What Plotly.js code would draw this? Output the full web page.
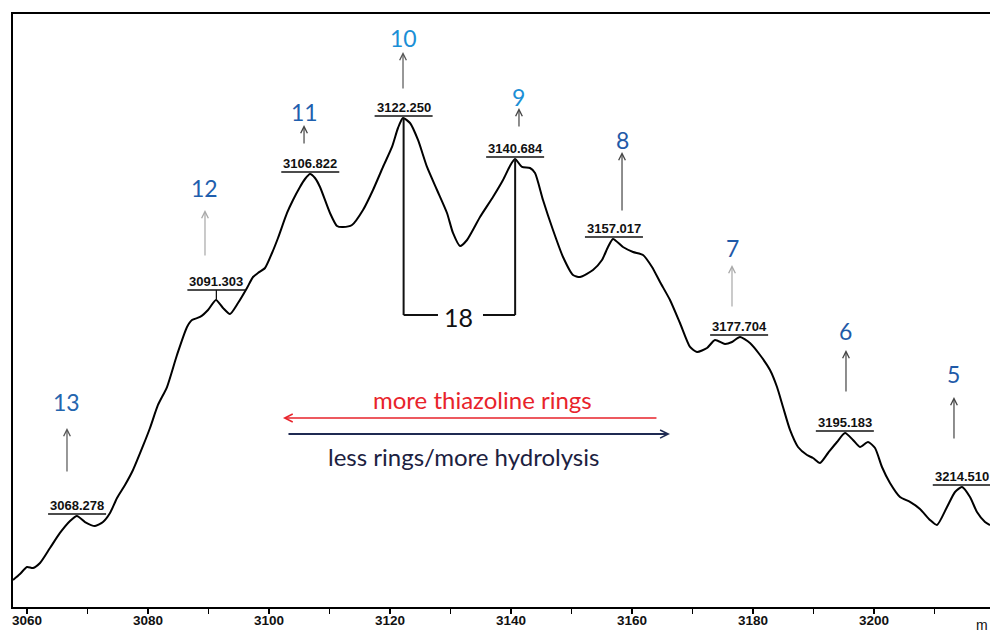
<!DOCTYPE html>
<html>
<head>
<meta charset="utf-8">
<script src="https://cdn.plot.ly/plotly-3.0.1.min.js"></script>
<style>html,body{margin:0;padding:0;background:#fff;}#chart{width:990px;height:633px;}</style>
</head>
<body>
<div id="chart"></div>
<script>
// ---- data ----
const mz = [3057.69,3058.84,3060.00,3060.99,3062.15,3063.80,3065.45,3067.11,3068.26,3069.59,3071.24,3072.56,3073.72,3074.88,3076.20,3077.52,3079.17,3080.33,3081.65,3083.14,3084.79,3086.45,3087.27,3088.60,3089.92,3091.24,3092.40,3093.55,3094.88,3096.36,3097.36,3098.18,3099.34,3100.50,3101.49,3102.98,3103.97,3105.12,3105.95,3106.78,3107.60,3108.43,3110.08,3111.24,3112.23,3113.72,3115.54,3117.19,3118.84,3120.33,3121.32,3122.15,3123.31,3124.63,3126.12,3127.77,3129.42,3130.41,3131.57,3132.73,3134.88,3137.02,3138.68,3139.83,3140.66,3141.82,3143.14,3143.97,3145.29,3146.94,3148.60,3150.25,3151.40,3153.55,3155.04,3156.03,3156.86,3158.51,3160.17,3161.82,3163.31,3164.63,3166.28,3167.93,3169.59,3170.74,3172.40,3173.72,3175.37,3176.53,3177.85,3179.50,3181.16,3182.81,3183.97,3184.96,3186.12,3187.44,3188.93,3189.92,3191.07,3192.40,3193.88,3195.21,3196.53,3197.69,3199.01,3200.17,3201.32,3202.64,3204.30,3205.95,3207.60,3209.26,3210.41,3212.07,3213.39,3214.55,3215.87,3217.02,3218.35,3219.17];
const intensity = [4.71,5.71,6.89,6.72,7.56,10.08,12.61,14.62,15.46,14.45,13.78,14.45,15.97,18.49,20.67,23.19,27.23,30.25,34.12,37.14,42.52,47.23,48.40,48.91,50.08,51.77,50.42,49.41,51.26,53.78,55.63,56.30,57.14,59.66,62.18,66.39,68.57,70.76,72.10,72.94,72.27,70.76,66.39,64.20,64.03,64.37,66.89,70.25,74.12,77.48,80.67,82.35,81.51,78.66,74.12,70.25,66.39,63.03,60.84,61.85,65.71,69.08,71.93,74.29,75.46,74.12,73.95,73.11,68.57,63.53,58.99,55.97,55.63,56.81,58.49,60.67,62.02,60.67,59.83,59.33,57.31,54.79,51.77,47.90,43.87,43.03,43.70,45.04,44.37,44.71,45.55,44.54,42.52,40.00,37.14,33.78,29.92,27.06,25.71,25.21,24.37,26.05,27.90,29.41,28.24,27.06,27.90,26.89,23.70,21.01,18.66,17.82,16.64,14.79,13.95,16.97,19.50,20.34,18.66,16.13,14.45,13.95];

const peakMz = [3068.278, 3091.303, 3106.822, 3122.250, 3140.684, 3157.017, 3177.704, 3195.183, 3214.510];
const peakIntensity = [15.46, 51.77, 72.94, 82.35, 75.46, 62.02, 45.55, 29.41, 20.34];
const ringCounts = ['13', '12', '11', '10', '9', '8', '7', '6', '5'];
const massDifference = '18';
const tickValues = [3060, 3070, 3080, 3090, 3100, 3110, 3120, 3130, 3140, 3150, 3160, 3170, 3180, 3190, 3200, 3210];
const tickLabels = ['3060', '', '3080', '', '3100', '', '3120', '', '3140', '', '3160', '', '3180', '', '3200', ''];
const axisTitle = 'm';   // only the first letter of "m/z" is visible in the reference
const moreRingsText = 'more thiazoline rings';
const lessRingsText = 'less rings/more hydrolysis';

// ---- styling / placement ----
const labelRaise = [0, 8, 0, 0, 0, 0, 0, 0, 0];      // px the peak label sits above the peak
const ringArrowX = [3066.61, 3089.42, 3105.79, 3122.15, 3141.32, 3158.35, 3176.53, 3195.37, 3213.22];
const ringArrowTipY = [30.25, 66.89, 81.18, 93.45, 84.03, 76.64, 57.65, 43.36, 35.46];
const ringArrowLen = [45, 47, 20, 38, 20, 60, 43, 43, 43];
const ringTextY = [34.62, 70.59, 83.36, 95.80, 85.88, 78.66, 60.50, 46.55, 39.33];
const ringColor = ['#2465ae', '#1f5fae', '#1f5fae', '#1b8fd6', '#1b8fd6', '#1f5aa8', '#1f5aa8', '#1f5aa8', '#1f5aa8'];
const ringArrowColor = ['#555', '#a8a8a8', '#444', '#555', '#444', '#444', '#a8a8a8', '#444', '#444'];

const labelFont = {family: 'Liberation Sans, Arial, sans-serif', size: 13, color: '#111', weight: 'bold'};
const bigFont = 'Lato, Open Sans, sans-serif';

const annotations = [];
const shapes = [];

peakMz.forEach((m, i) => {
  annotations.push({
    x: m, y: peakIntensity[i], xref: 'x', yref: 'y',
    text: m.toFixed(3), showarrow: false,
    xanchor: 'center', yanchor: 'bottom', yshift: labelRaise[i] + 1,
    font: labelFont
  });
  shapes.push({
    type: 'line', xref: 'x', yref: 'y',
    xsizemode: 'pixel', ysizemode: 'pixel',
    xanchor: m, yanchor: peakIntensity[i],
    x0: -29, x1: 29, y0: labelRaise[i] + 2, y1: labelRaise[i] + 2,
    line: {color: '#111', width: 1.6}
  });
  if (labelRaise[i] > 0) {
    shapes.push({
      type: 'line', xref: 'x', yref: 'y', ysizemode: 'pixel',
      yanchor: peakIntensity[i], x0: m, x1: m, y0: 0, y1: labelRaise[i] + 2,
      line: {color: '#111', width: 1.3}
    });
  }
});

ringCounts.forEach((r, i) => {
  annotations.push({
    x: ringArrowX[i], y: ringArrowTipY[i], xref: 'x', yref: 'y',
    text: '', showarrow: true, ax: 0, ay: ringArrowLen[i],
    arrowhead: 5, arrowsize: 1.1, arrowwidth: 1.2, arrowcolor: ringArrowColor[i]
  });
  annotations.push({
    x: ringArrowX[i], y: ringTextY[i], xref: 'x', yref: 'y',
    text: r, showarrow: false, xanchor: 'center', yanchor: 'middle',
    font: {family: bigFont, size: 23, color: ringColor[i]}
  });
});

// 18 Da bracket between the 3122 and 3140 peaks
const bracketY = 49.24;
const gapLeft = 3127.93, gapRight = 3135.37;
shapes.push({type: 'line', xref: 'x', yref: 'y', x0: peakMz[3], x1: peakMz[3], y0: peakIntensity[3], y1: bracketY, line: {color: '#111', width: 2}});
shapes.push({type: 'line', xref: 'x', yref: 'y', x0: peakMz[3], x1: gapLeft, y0: bracketY, y1: bracketY, line: {color: '#111', width: 2}});
shapes.push({type: 'line', xref: 'x', yref: 'y', x0: gapRight, x1: peakMz[4], y0: bracketY, y1: bracketY, line: {color: '#111', width: 2}});
shapes.push({type: 'line', xref: 'x', yref: 'y', x0: peakMz[4], x1: peakMz[4], y0: bracketY, y1: peakIntensity[4], line: {color: '#111', width: 2}});
annotations.push({x: 3131.40, y: 48.91, xref: 'x', yref: 'y', text: massDifference, showarrow: false,
  font: {family: bigFont, size: 25, color: '#111'}});

// direction arrows
annotations.push({x: 3102.31, y: 31.93, xref: 'x', yref: 'y', text: '', showarrow: true, ax: 375, ay: 0,
  arrowhead: 5, arrowsize: 1.05, arrowwidth: 1.5, arrowcolor: '#e8232b'});
annotations.push({x: 3166.28, y: 29.24, xref: 'x', yref: 'y', text: '', showarrow: true, ax: -383, ay: 0,
  arrowhead: 5, arrowsize: 0.8, arrowwidth: 2, arrowcolor: '#1f2a52'});
annotations.push({x: 3135.37, y: 34.96, xref: 'x', yref: 'y', text: moreRingsText, showarrow: false,
  font: {family: bigFont, size: 24, color: '#e8232b'}});
annotations.push({x: 3132.23, y: 25.38, xref: 'x', yref: 'y', text: lessRingsText, showarrow: false,
  font: {family: bigFont, size: 24, color: '#1c2140'}});

// axis title at the bottom-right corner
annotations.push({x: 1, y: -0.031, xref: 'paper', yref: 'paper', text: axisTitle, showarrow: false,
  xanchor: 'right', yanchor: 'middle', font: {family: 'Liberation Sans, Arial, sans-serif', size: 14, color: '#111'}});

const trace = {
  x: mz, y: intensity, type: 'scatter', mode: 'lines',
  line: {color: '#000', width: 2, shape: 'spline', smoothing: 0.6},
  hoverinfo: 'skip'
};

const layout = {
  width: 990, height: 633,
  margin: {l: 13, r: 0, t: 14, b: 26, pad: 0},
  paper_bgcolor: '#fff', plot_bgcolor: '#fff',
  showlegend: false,
  xaxis: {
    range: [3057.686, 3219.174], showgrid: false, zeroline: false,
    showline: true, linecolor: '#000', linewidth: 2, mirror: true,
    ticks: 'outside', ticklen: 5, tickwidth: 1.5, tickcolor: '#000',
    tickmode: 'array', tickvals: tickValues, ticktext: tickLabels,
    ticklabelstandoff: -5,
    tickfont: {family: 'Liberation Sans, Arial, sans-serif', size: 13.5, color: '#111', weight: 'bold'}
  },
  yaxis: {
    range: [0.168, 99.83], showgrid: false, zeroline: false,
    showline: true, linecolor: '#000', linewidth: 2,
    showticklabels: false, ticks: ''
  },
  annotations: annotations,
  shapes: shapes
};

Plotly.newPlot('chart', [trace], layout, {displayModeBar: false, staticPlot: true});
</script>
</body>
</html>
